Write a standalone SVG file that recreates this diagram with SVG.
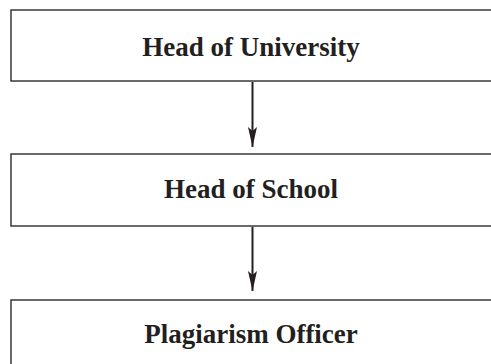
<svg xmlns="http://www.w3.org/2000/svg" width="491" height="364" viewBox="0 0 491 364">
<style>
.box{fill:#fff;stroke:#2b2b2b;stroke-width:1.4}
.lbl{font-family:"Liberation Serif","Times New Roman",serif;font-weight:bold;font-size:27px;fill:#231f20;text-anchor:middle}
.edge{stroke:#231f20;stroke-width:2;fill:none}
</style>
<defs>
<marker id="ah" markerWidth="20" markerHeight="10" refX="20" refY="5" orient="auto" markerUnits="userSpaceOnUse" viewBox="0 0 20 10">
<path d="M0,0.5 L20,5 L0,9.5 L4,5 Z" fill="#231f20"/>
</marker>
</defs>
<rect width="491" height="364" fill="#fff"/>
<g id="connectors">
<line class="edge" x1="252.5" y1="82" x2="252.5" y2="147" marker-end="url(#ah)"/>
<line class="edge" x1="252.5" y1="227" x2="252.5" y2="291" marker-end="url(#ah)"/>
</g>
<g id="head-of-university">
<rect class="box" x="11" y="10" width="490" height="71"/>
<text class="lbl" x="251" y="56">Head of University</text>
</g>
<g id="head-of-school">
<rect class="box" x="11" y="154" width="490" height="72"/>
<text class="lbl" x="251" y="198">Head of School</text>
</g>
<g id="plagiarism-officer">
<rect class="box" x="11" y="300" width="490" height="80"/>
<text class="lbl" x="251" y="343">Plagiarism Officer</text>
</g>
</svg>
